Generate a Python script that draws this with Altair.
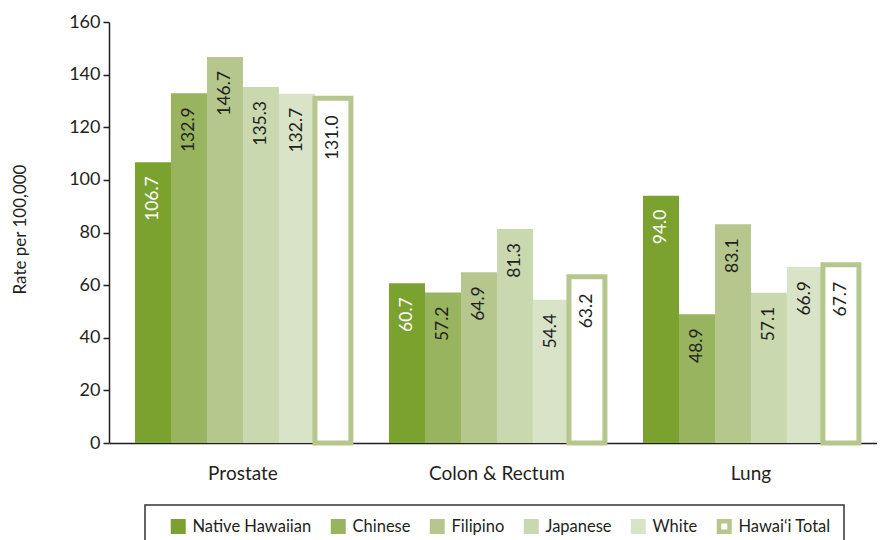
import altair as alt
import pandas as pd

cancers = ["Prostate", "Colon & Rectum", "Lung"]
groups = ["Native Hawaiian", "Chinese", "Filipino", "Japanese", "White", "Hawai‘i Total"]
prostate = [106.7, 132.9, 146.7, 135.3, 132.7, 131.0]
colon = [60.7, 57.2, 64.9, 81.3, 54.4, 63.2]
lung = [94.0, 48.9, 83.1, 57.1, 66.9, 67.7]
y_ticks = [0, 20, 40, 60, 80, 100, 120, 140, 160]

fills = ["#7BA22F", "#98B45E", "#B5C78C", "#C9D8AE", "#D9E3C7", "#FFFFFF"]
strokes = ["#7BA22F", "#98B45E", "#B5C78C", "#C9D8AE", "#D9E3C7", "#B5C78C"]
TOTAL = groups[-1]
INK = "#231f20"
FONT = "Lato"

rows = []
for c, vals in zip(cancers, [prostate, colon, lung]):
    for g, v in zip(groups, vals):
        rows.append({"cancer": c, "group": g, "value": v})
df = pd.DataFrame(rows)

x_enc = alt.X(
    "cancer:N", sort=cancers,
    scale=alt.Scale(paddingInner=0.15, paddingOuter=0.0868, align=0.59),
    axis=alt.Axis(title=None, labelAngle=0, ticks=False, tickSize=0, labelPadding=21,
                  labelFont=FONT, labelFontSize=19, labelColor=INK,
                  domainColor=INK, domainWidth=1.5),
)
xoff_enc = alt.XOffset("group:N", sort=groups,
                       scale=alt.Scale(domain=groups, paddingInner=0, paddingOuter=0))
y_enc = alt.Y(
    "value:Q",
    scale=alt.Scale(domain=[0, 160], nice=False),
    axis=alt.Axis(values=y_ticks, title="Rate per 100,000", grid=False,
                  labelFont=FONT, labelFontSize=18, labelColor=INK, labelPadding=3,
                  tickColor=INK, tickSize=6, tickWidth=1.5,
                  domainColor=INK, domainWidth=1.5,
                  titleFont=FONT, titleFontSize=17, titleFontWeight="normal", titleColor=INK,
                  titleAngle=270, titleX=-89, titleY=207, titleAlign="center",
                  titleBaseline="middle"),
)

legend = alt.Legend(
    title=" ", titleOrient="left", titleFontSize=1, titlePadding=12,
    orient="none", legendX=36, legendY=483, direction="horizontal",
    columns=6, columnPadding=12, labelOffset=6, padding=13,
    strokeColor="#333333", symbolType="square", symbolSize=110, symbolStrokeWidth=4.5,
    labelFont=FONT, labelFontSize=16.5, labelColor=INK,
)

base = alt.Chart(df)

bars = base.mark_bar().encode(
    x=x_enc,
    xOffset=xoff_enc,
    y=y_enc,
    fill=alt.Fill("group:N", sort=groups, scale=alt.Scale(domain=groups, range=fills), legend=legend),
    stroke=alt.Stroke("group:N", sort=groups, scale=alt.Scale(domain=groups, range=strokes), legend=legend),
    strokeWidth=alt.condition(alt.datum.group == TOTAL, alt.value(5), alt.value(0)),
)

labels = base.transform_filter(alt.datum.group != TOTAL).mark_text(
    angle=270, align="right", baseline="middle", dx=-14, font=FONT, fontSize=17.5
).encode(
    x=x_enc, xOffset=xoff_enc, y=y_enc,
    text=alt.Text("value:Q", format=".1f"),
    color=alt.condition(alt.datum.group == "Native Hawaiian", alt.value("white"), alt.value(INK)),
)

total_labels = base.transform_filter(alt.datum.group == TOTAL).mark_text(
    angle=270, align="right", baseline="middle", dx=-17, font=FONT, fontSize=17.5, color=INK
).encode(
    x=x_enc, xOffset=xoff_enc, y=y_enc,
    text=alt.Text("value:Q", format=".1f"),
)

chart = alt.layer(bars, labels, total_labels).properties(
    width=768, height=421,
    autosize=alt.AutoSizeParams(type="none"),
    padding={"left": 101, "top": 14, "right": 0, "bottom": 110},
).configure_view(stroke=None).configure_legend(strokeWidth=1.5)

chart.save("out.html", embed_options={"renderer": "svg", "actions": False})
